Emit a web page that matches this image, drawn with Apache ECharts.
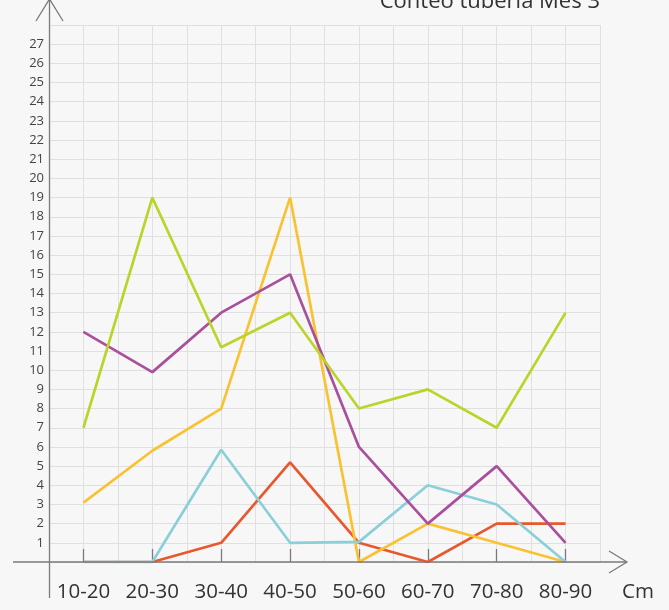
<!DOCTYPE html>
<html>
<head>
<meta charset="utf-8">
<script src="https://cdn.jsdelivr.net/npm/echarts@6/dist/echarts.min.js"></script>
<style>
  html, body { margin: 0; padding: 0; background: #f7f7f7; }
  #chart { width: 669px; height: 610px; }
</style>
</head>
<body>
<div id="chart"></div>
<script>
// ---- data ----
const categories = ['10-20', '20-30', '30-40', '40-50', '50-60', '60-70', '70-80', '80-90'];
const serieVerde    = [7, 19, 11.2, 13, 8, 9, 7, 13];
const serieMorada   = [12, 9.9, 13, 15, 6, 2, 5, 1];
const serieAmarilla = [3.1, 5.8, 8, 19, 0, 2, 1, 0];
const serieCeleste  = [0, 0, 5.85, 1, 1.05, 4, 3, 0];
const serieRoja     = [0, 0, 1, 5.2, 1, 0, 2, 2];
const yTickMin = 1, yTickMax = 27;
const titulo = 'Conteo tubería Mes 3';
const unidadX = 'Cm';

// ---- chart ----
const chart = echarts.init(document.getElementById('chart'), null, { renderer: 'canvas' });
const axisColor = '#7a7a7a';
const gridColor = '#e0e0e0';
const font = "'Open Sans', 'Noto Sans', sans-serif";

function lineSeries(name, data, color) {
  return {
    name, type: 'line', data, symbol: 'none', smooth: false,
    xAxisIndex: 0, yAxisIndex: 0,
    lineStyle: { color, width: 2.7 }, itemStyle: { color }
  };
}

chart.setOption({
  backgroundColor: '#f7f7f7',
  animation: false,
  grid: { left: 49, right: 69, top: 25, bottom: 48 },
  xAxis: [
    {
      type: 'category', data: categories, boundaryGap: true, offset: 8,
      axisLine: { show: false },
      axisTick: { show: true, interval: 0, alignWithLabel: true, inside: true, length: 13, lineStyle: { color: axisColor, width: 1.3 } },
      axisLabel: { interval: 0, hideOverlap: false, fontSize: 20.5, fontFamily: font, color: '#333', margin: 12 },
      splitLine: { show: false }
    },
    {
      type: 'value', min: 0, max: 16, interval: 1, position: 'top',
      axisLine: { show: false }, axisTick: { show: false }, axisLabel: { show: false },
      splitLine: { show: true, lineStyle: { color: gridColor, width: 1 } }
    }
  ],
  yAxis: {
    type: 'value', min: 0, max: 28, interval: 1,
    axisLine: { show: false }, axisTick: { show: false },
    axisLabel: {
      formatter: v => (v >= yTickMin && v <= yTickMax) ? String(v) : '',
      fontSize: 13, fontFamily: font, color: '#444', margin: 5, padding: [0, 0, 6, 0]
    },
    splitLine: { show: true, lineStyle: { color: gridColor, width: 1 } }
  },
  series: [
    lineSeries('roja', serieRoja, '#e8582e'),
    lineSeries('amarilla', serieAmarilla, '#f8c232'),
    lineSeries('celeste', serieCeleste, '#8ccfd9'),
    lineSeries('morada', serieMorada, '#a8509b'),
    lineSeries('verde', serieVerde, '#bcd42a')
  ],
  graphic: [
    { type: 'line', shape: { x1: 13, y1: 562, x2: 627, y2: 562 }, style: { stroke: axisColor, lineWidth: 1.3 }, z: 50 },
    { type: 'polyline', shape: { points: [[609, 551], [627, 562], [609, 573]] }, style: { stroke: axisColor, lineWidth: 1.3, fill: null }, z: 50 },
    { type: 'line', shape: { x1: 49.5, y1: -2, x2: 49.5, y2: 598 }, style: { stroke: axisColor, lineWidth: 1.3 }, z: 50 },
    { type: 'polyline', shape: { points: [[36, 21], [49.5, -1], [63, 21]] }, style: { stroke: axisColor, lineWidth: 1.3, fill: null }, z: 50 },
    { type: 'text', x: 600, y: 12.5, style: { text: titulo, font: "22px 'Open Sans'", fill: '#333', align: 'right', verticalAlign: 'bottom' }, z: 50 },
    { type: 'text', x: 622, y: 592, style: { text: unidadX, font: "20.5px 'Open Sans'", fill: '#333', align: 'left', verticalAlign: 'middle' }, z: 50 }
  ]
});
</script>
</body>
</html>
